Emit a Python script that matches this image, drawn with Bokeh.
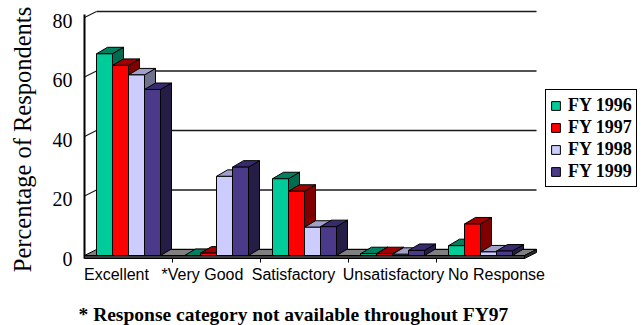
import math
from bokeh.plotting import figure
from bokeh.models import Range1d, Legend, LegendItem
from bokeh.core.properties import value
from bokeh.embed import file_html
from bokeh.resources import INLINE

# ---- data -------------------------------------------------------------
categories = ["Excellent", "*Very Good", "Satisfactory", "Unsatisfactory", "No Response"]
series = ["FY 1996", "FY 1997", "FY 1998", "FY 1999"]
fy1996 = [67.8, 0.0, 25.8, 0.6, 3.3]
fy1997 = [63.9, 0.8, 21.6, 0.6, 10.6]
fy1998 = [60.7, 26.6, 9.5, 0.4, 1.2]
fy1999 = [55.8, 29.7, 9.7, 1.7, 1.5]
y_ticks = [0, 20, 40, 60, 80]
y_title = "Percentage of Respondents"
footnote = "* Response category not available throughout FY97"

values = [fy1996, fy1997, fy1998, fy1999]

# ---- styling / layout --------------------------------------------------
front_colors = ["#00CC99", "#FF0000", "#CCCCFF", "#4B3A8A"]
top_colors = ["#00805F", "#A00000", "#A0A0C8", "#372A6E"]
side_colors = ["#006B4F", "#800000", "#70708F", "#261D47"]

W, H = 644, 325
ORIGIN_X = 84.0        # pixel column of the front-left floor corner
ORIGIN_Y = 255.0       # pixel row of the front zero line
CAT_PX = 88.0          # width of one category slot on the floor
K = 2.975              # pixels per percentage point


def px_x(p):
    return p / CAT_PX


def px_y(p):
    return p / K


n_cat = len(categories)
WALL_DX, WALL_DY = px_x(12), px_y(6)     # depth of floor and walls
BAR_DX, BAR_DY = px_x(11), px_y(6.5)     # depth of each bar
BAR_W = px_x(16)
BAR_LEAD = px_x(12)
SLAB = px_y(3)                           # floor thickness
label_nudge_px = [-12, -14, -11, 1, 16]  # category label placement
tick_label_nudge = 1.1                   # y tick label placement
CAT_LABEL_ROW = 274                      # pixel row of category label baseline
FOOTNOTE_ROW = 314                       # pixel row of footnote baseline

p = figure(width=W, height=H, output_backend="svg", toolbar_location=None,
           title=None, x_axis_location=None, y_axis_location=None,
           x_range=Range1d(-ORIGIN_X / CAT_PX, (W - ORIGIN_X) / CAT_PX),
           y_range=Range1d(-(H - ORIGIN_Y) / K, ORIGIN_Y / K),
           min_border=0)
p.outline_line_color = None
p.grid.grid_line_color = None
p.background_fill_color = "white"
p.border_fill_color = "white"

# ---- back wall gridlines and left wall --------------------------------
p.segment(x0=[WALL_DX] * len(y_ticks), y0=[t + WALL_DY for t in y_ticks],
          x1=[n_cat + WALL_DX] * len(y_ticks), y1=[t + WALL_DY for t in y_ticks],
          line_color="#1a1a1a", line_width=1.6)
upper = y_ticks[1:]
p.segment(x0=[0] * len(upper), y0=upper,
          x1=[WALL_DX] * len(upper), y1=[t + WALL_DY for t in upper],
          line_color="#1a1a1a", line_width=1.2)
top_v = max(y_ticks)
p.segment(x0=[0], y0=[-SLAB], x1=[0], y1=[top_v + 1.0],
          line_color="black", line_width=2)

# ---- floor --------------------------------------------------------------
p.patch([0, n_cat, n_cat + WALL_DX, WALL_DX], [0, 0, WALL_DY, WALL_DY],
        fill_color="#808080", line_color="black", line_width=1)
p.patch([0, n_cat, n_cat, 0], [0, 0, -SLAB, -SLAB],
        fill_color="#3a3a3a", line_color="black", line_width=1)
p.patch([n_cat, n_cat + WALL_DX, n_cat + WALL_DX, n_cat],
        [0, WALL_DY, WALL_DY - SLAB, -SLAB],
        fill_color="#2a2a2a", line_color="black", line_width=1)
bounds = list(range(1, n_cat))
p.segment(x0=bounds, y0=[-SLAB] * len(bounds), x1=bounds,
          y1=[-SLAB - px_y(4)] * len(bounds), line_color="black", line_width=1)

# ---- 3D bars --------------------------------------------------------------
legend_items = []
for j, vals in enumerate(values):
    fx, fy, tx, ty, sx, sy = [], [], [], [], [], []
    for i, v in enumerate(vals):
        x0 = i + BAR_LEAD + j * BAR_W
        x1 = x0 + BAR_W
        fx.append([x0, x1, x1, x0])
        fy.append([0, 0, v, v])
        tx.append([x0, x1, x1 + BAR_DX, x0 + BAR_DX])
        ty.append([v, v, v + BAR_DY, v + BAR_DY])
        sx.append([x1, x1 + BAR_DX, x1 + BAR_DX, x1])
        sy.append([0, BAR_DY, v + BAR_DY, v])
    p.patches(sx, sy, fill_color=side_colors[j], line_color="black", line_width=1)
    p.patches(tx, ty, fill_color=top_colors[j], line_color="black", line_width=1)
    r = p.patches(fx, fy, fill_color=front_colors[j], line_color="black", line_width=1)
    legend_items.append(LegendItem(label=series[j], renderers=[r]))

# ---- value scale labels and axis title ------------------------------------
p.text(x=[px_x(-12)] * len(y_ticks), y=[t - tick_label_nudge for t in y_ticks],
       text=[str(t) for t in y_ticks], text_align="right", text_baseline="middle",
       text_font=value("Liberation Serif"), text_font_size="20px",
       text_color="black")
p.text(x=[px_x(22 - ORIGIN_X)], y=[px_y(ORIGIN_Y - 139)], text=[y_title],
       angle=math.pi / 2, text_align="center", text_baseline="middle",
       text_font=value("Liberation Serif"), text_font_size="24.5px",
       text_color="black")

# ---- category labels and footnote -----------------------------------------
p.text(x=[i + 0.5 + px_x(n) for i, n in enumerate(label_nudge_px)],
       y=[-px_y(CAT_LABEL_ROW - ORIGIN_Y)] * n_cat, text=categories,
       text_align="center", text_baseline="alphabetic",
       text_font=value("Liberation Sans"), text_font_size="16px",
       text_color="black")
p.text(x=[px_x(78 - ORIGIN_X)], y=[-px_y(FOOTNOTE_ROW - ORIGIN_Y)], text=[footnote],
       text_align="left", text_baseline="alphabetic",
       text_font=value("Liberation Serif"), text_font_size="19.5px",
       text_font_style="bold", text_color="black")

# ---- legend ---------------------------------------------------------------
legend = Legend(items=legend_items, location=(545, 138), margin=0, padding=4,
                spacing=0, label_height=22, glyph_width=11, glyph_height=11,
                label_standoff=7, border_line_color="black", border_line_width=1,
                border_line_alpha=1.0, background_fill_alpha=1.0,
                label_text_font="Liberation Serif", label_text_font_size="18px",
                label_text_font_style="bold", label_text_color="black")
p.add_layout(legend)

open("out.html", "w").write(file_html(p, INLINE))
